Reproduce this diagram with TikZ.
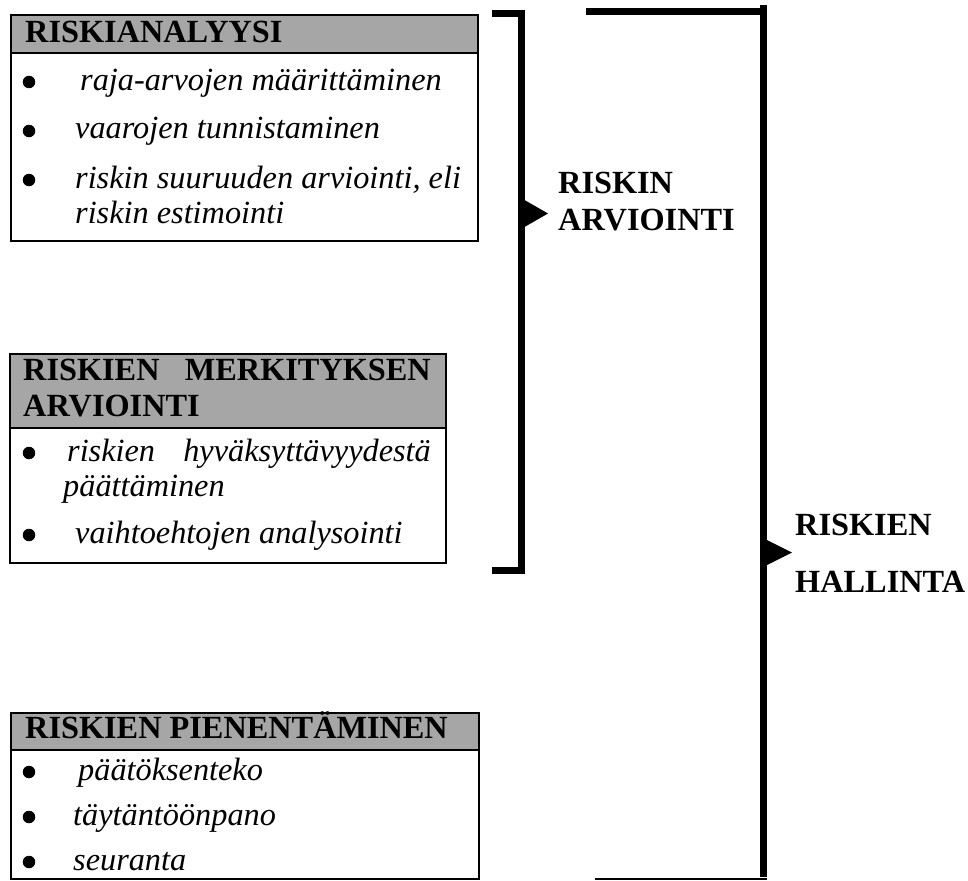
\documentclass[tikz,border=0pt]{standalone}
\usepackage{fontspec}
\setmainfont{Liberation Serif}
\begin{document}
\begin{tikzpicture}[x=1pt,y=-1pt,
  txt/.style={font=\fontsize{32.3}{38}\selectfont, inner sep=0pt, anchor=base west},
  head/.style={txt, font=\fontsize{32.3}{38}\selectfont\bfseries},
  item/.style={txt, font=\fontsize{32.3}{38}\selectfont\itshape},
  itemr/.style={item, anchor=base east},
  boxst/.style={draw=black, line width=2pt, fill=none, inner sep=0pt, anchor=north west},
  hdrst/.style={draw=black, line width=2pt, fill=hdrgray, inner sep=0pt, anchor=north west},
  dot/.style={circle, fill=black, inner sep=0pt, minimum size=12.5pt},
  bracket/.style={line width=7pt, line join=miter},
  pointer/.style={fill=black, draw=none}]
\definecolor{hdrgray}{RGB}{166,166,166}
\useasboundingbox (0,0) rectangle (968,880);

% --- box 1: risk analysis ---
\node[hdrst, minimum width=467pt, minimum height=38pt] (h1) at (10,14) {};
\node[boxst, minimum width=467pt, minimum height=226pt] (b1) at (10,14) {};
\node[head] (h1t) at (25,43) {RISKIANALYYSI};
\node[dot] (d11) at (29,82) {};
\node[item] (i11) at (80,91) {raja-arvojen määrittäminen};
\node[dot] (d12) at (29,131) {};
\node[item] (i12) at (75,139) {vaarojen tunnistaminen};
\node[dot] (d13) at (29,180) {};
\node[item] (i13) at (75,188) {riskin suuruuden arviointi, eli};
\node[item] (i13b) at (75,223) {riskin estimointi};

% --- box 2: risk evaluation ---
\node[hdrst, minimum width=436pt, minimum height=74pt] (h2) at (9,353) {};
\node[boxst, minimum width=436pt, minimum height=209pt] (b2) at (9,353) {};
\node[head] (h2a) at (23,380) {RISKIEN};
\node[head, anchor=base east] (h2b) at (431,380) {MERKITYKSEN};
\node[head] (h2c) at (23,416) {ARVIOINTI};
\node[dot] (d21) at (29,453) {};
\node[item] (i21a) at (67,461) {riskien};
\node[itemr] (i21b) at (431,461) {hyväksyttävyydestä};
\node[item] (i21c) at (63,496) {päättäminen};
\node[dot] (d22) at (29,535) {};
\node[item] (i22) at (75,543) {vaihtoehtojen analysointi};

% --- box 3: risk reduction ---
\node[hdrst, minimum width=468pt, minimum height=37pt] (h3) at (10,712) {};
\node[boxst, minimum width=468pt, minimum height=166pt] (b3) at (10,712) {};
\node[head] (h3t) at (25,738) {RISKIEN PIENENTÄMINEN};
\node[dot] (d31) at (29,772) {};
\node[item] (i31) at (78,780) {päätöksenteko};
\node[dot] (d32) at (29,817) {};
\node[item] (i32) at (73,825) {täytäntöönpano};
\node[dot] (d33) at (29,862) {};
\node[item] (i33) at (73,870) {seuranta};

% --- bracket: risk assessment ---
\coordinate (a1) at (492,13.5);
\coordinate (a2) at (521,13.5);
\coordinate (a3) at (521,570);
\coordinate (a4) at (492,570);
\draw[bracket] (a1) -- (a2) -- (a3) -- (a4);
\fill[pointer] (524.5,200) -- (548,213.5) -- (524.5,227) -- cycle;
\node[head] (ra1) at (558,193) {RISKIN};
\node[head] (ra2) at (558,230) {ARVIOINTI};

% --- bracket: risk management ---
\coordinate (m1) at (586,11.5);
\coordinate (m2) at (763.5,11.5);
\coordinate (m0) at (763.5,5);
\coordinate (m3) at (763.5,877);
\coordinate (m4) at (595,879);
\coordinate (m5) at (767,879);
\draw[bracket] (m1) -- (m2);
\draw[line width=7pt] (m0) -- (m3);
\draw[line width=2pt] (m4) -- (m5);
\fill[pointer] (767,540) -- (792,552.5) -- (767,565) -- cycle;
\node[head] (rh1) at (795,535) {RISKIEN};
\node[head] (rh2) at (795,592) {HALLINTA};
\end{tikzpicture}
\end{document}
